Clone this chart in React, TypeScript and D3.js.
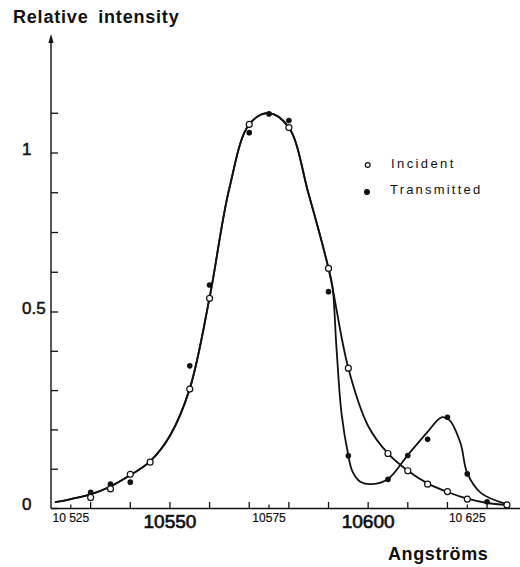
import * as d3 from 'd3'
import { useEffect, useRef } from 'react'

// wavelengths (Angstroms) and relative intensity of the measured points
const incidentX = [10530, 10535, 10540, 10545, 10555, 10560, 10570, 10580, 10590, 10595, 10605, 10610, 10615, 10620, 10625, 10635]
const incidentY = [0.028, 0.05, 0.087, 0.118, 0.304, 0.543, 1.09, 1.08, 0.637, 0.357, 0.14, 0.096, 0.062, 0.043, 0.024, 0.009]

const transmittedX = [10530, 10535, 10540, 10545, 10555, 10560, 10570, 10575, 10580, 10590, 10595, 10605, 10610, 10615, 10620, 10625, 10630, 10635]
const transmittedY = [0.041, 0.062, 0.067, 0.119, 0.363, 0.585, 1.064, 1.123, 1.102, 0.564, 0.134, 0.074, 0.135, 0.176, 0.232, 0.088, 0.017, 0.009]

// hand drawn smooth curves
const incidentCurveX = [10521, 10525, 10530, 10535, 10540, 10545, 10550, 10555, 10560, 10565, 10570, 10575, 10580, 10585, 10590, 10595, 10600, 10605, 10610, 10615, 10620, 10625, 10630, 10635]
const incidentCurveY = [0.016, 0.024, 0.036, 0.056, 0.085, 0.12, 0.185, 0.305, 0.545, 0.89, 1.09, 1.125, 1.08, 0.87, 0.637, 0.357, 0.21, 0.14, 0.096, 0.064, 0.042, 0.025, 0.014, 0.009]

const transmittedCurveX = [10521, 10525, 10530, 10535, 10540, 10545, 10550, 10555, 10560, 10565, 10570, 10575, 10580, 10585, 10590, 10591, 10592, 10593.3, 10595, 10596, 10598, 10601, 10605, 10610, 10615, 10618.5, 10620.5, 10623.3, 10625, 10628.5, 10634.7]
const transmittedCurveY = [0.016, 0.024, 0.036, 0.056, 0.085, 0.12, 0.185, 0.305, 0.545, 0.89, 1.09, 1.125, 1.08, 0.87, 0.637, 0.58, 0.41, 0.24, 0.135, 0.095, 0.068, 0.062, 0.075, 0.136, 0.195, 0.232, 0.225, 0.166, 0.09, 0.039, 0.012]

const yTicks = [0, 0.1, 0.2, 0.3, 0.4, 0.5, 0.625, 0.75, 0.875, 1, 1.125]
const yLabels = [
  [0, '0'],
  [0.5, '0.5'],
  [1, '1'],
]
const xMajorTicks = [10530, 10540, 10550, 10560, 10570, 10580, 10590, 10600, 10610, 10620, 10630]
const xMinorTicks = [10525, 10575, 10625]
const xLabels = [
  [10525, '10 525', 'small'],
  [10550, '10550', 'big'],
  [10575, '10575', 'small'],
  [10600, '10600', 'big'],
  [10625, '10 625', 'small'],
]

const FONT = "'Liberation Sans', Arial, Helvetica, sans-serif"
const INK = '#111'

const App = () => {
  const svgRef = useRef(null)

  useEffect(() => {
    const svg = d3.select(svgRef.current)
    svg.selectAll('*').remove()

    const x = d3.scaleLinear().domain([10520, 10638.3]).range([51, 520])
    // the printed axis is not uniform: 0-0.5 and 0.5-1 take different lengths
    const y = d3.scaleLinear().domain([0, 0.5, 1]).range([508.5, 312, 153])

    // y axis with arrow
    svg.append('line')
      .attr('x1', x(10520)).attr('x2', x(10520))
      .attr('y1', y(0)).attr('y2', 40)
      .attr('stroke', INK).attr('stroke-width', 1.4)
    svg.append('path')
      .attr('d', `M${x(10520)},34 L${x(10520) - 2.6},43 L${x(10520) + 2.6},43 Z`)
      .attr('fill', INK)
    svg.append('g')
      .selectAll('line')
      .data(yTicks)
      .join('line')
      .attr('x1', x(10520)).attr('x2', x(10520) + 7)
      .attr('y1', (d) => y(d)).attr('y2', (d) => y(d))
      .attr('stroke', INK).attr('stroke-width', 1.3)
    svg.append('g')
      .selectAll('text')
      .data(yLabels)
      .join('text')
      .attr('x', 22)
      .attr('y', (d) => y(d[0]) + 1.5)
      .style('font-family', FONT)
      .style('font-size', '17px')
      .attr('fill', INK)
      .attr('stroke', INK).attr('stroke-width', 0.5)
      .text((d) => d[1])

    // x axis
    svg.append('line')
      .attr('x1', x(10520)).attr('x2', 520)
      .attr('y1', y(0)).attr('y2', y(0))
      .attr('stroke', INK).attr('stroke-width', 1.5)
    svg.append('g')
      .selectAll('line')
      .data(xMajorTicks)
      .join('line')
      .attr('x1', (d) => x(d)).attr('x2', (d) => x(d))
      .attr('y1', y(0)).attr('y2', y(0) - 6.5)
      .attr('stroke', INK).attr('stroke-width', 1.3)
    svg.append('g')
      .selectAll('line')
      .data(xMinorTicks)
      .join('line')
      .attr('x1', (d) => x(d)).attr('x2', (d) => x(d))
      .attr('y1', y(0)).attr('y2', y(0) - 4)
      .attr('stroke', INK).attr('stroke-width', 1.2)
    svg.append('g')
      .selectAll('text')
      .data(xLabels)
      .join('text')
      .attr('x', (d) => x(d[0]))
      .attr('y', (d) => (d[2] === 'big' ? 528 : 521.5))
      .attr('text-anchor', 'middle')
      .style('font-family', FONT)
      .style('font-size', (d) => (d[2] === 'big' ? '19px' : '12px'))
      .attr('fill', INK)
      .attr('stroke', INK)
      .attr('stroke-width', (d) => (d[2] === 'big' ? 0.7 : 0.2))
      .text((d) => d[1])

    // curves
    const line = d3.line()
      .x((d) => x(d[0]))
      .y((d) => y(d[1]))
      .curve(d3.curveCatmullRom.alpha(0.5))
    svg.append('path')
      .datum(incidentCurveX.map((v, i) => [v, incidentCurveY[i]]))
      .attr('d', line)
      .attr('fill', 'none').attr('stroke', INK).attr('stroke-width', 1.8)
    svg.append('path')
      .datum(transmittedCurveX.map((v, i) => [v, transmittedCurveY[i]]))
      .attr('d', line)
      .attr('fill', 'none').attr('stroke', INK).attr('stroke-width', 1.8)

    // points
    svg.append('g')
      .selectAll('circle')
      .data(transmittedX.map((v, i) => [v, transmittedY[i]]))
      .join('circle')
      .attr('cx', (d) => x(d[0]))
      .attr('cy', (d) => y(d[1]))
      .attr('r', 2.8)
      .attr('fill', INK)
    svg.append('g')
      .selectAll('circle')
      .data(incidentX.map((v, i) => [v, incidentY[i]]))
      .join('circle')
      .attr('cx', (d) => x(d[0]))
      .attr('cy', (d) => y(d[1]))
      .attr('r', 3)
      .attr('fill', 'white')
      .attr('stroke', INK).attr('stroke-width', 1.2)

    // legend
    svg.append('circle')
      .attr('cx', 367.7).attr('cy', 165).attr('r', 2.4)
      .attr('fill', 'white').attr('stroke', INK).attr('stroke-width', 1.2)
    svg.append('circle')
      .attr('cx', 367).attr('cy', 192).attr('r', 3)
      .attr('fill', INK)
    svg.append('text')
      .attr('x', 391).attr('y', 167.5)
      .style('font-family', FONT).style('font-size', '13px')
      .style('letter-spacing', '2.4px')
      .attr('fill', INK)
      .text('Incident')
    svg.append('text')
      .attr('x', 390).attr('y', 194)
      .style('font-family', FONT).style('font-size', '13px')
      .style('letter-spacing', '2.2px')
      .attr('fill', INK)
      .text('Transmitted')

    // axis titles
    svg.append('text')
      .attr('x', 13).attr('y', 22.5)
      .style('font-family', FONT).style('font-size', '18px')
      .style('font-weight', 'bold')
      .style('letter-spacing', '0.8px')
      .style('word-spacing', '4px')
      .attr('fill', INK)
      .text('Relative intensity')
    svg.append('text')
      .attr('x', 388).attr('y', 560)
      .style('font-family', FONT).style('font-size', '18px')
      .style('font-weight', 'bold')
      .style('letter-spacing', '0.6px')
      .attr('fill', INK)
      .text('Angströms')
  }, [])

  return (
    <svg
      ref={svgRef}
      width={520}
      height={567}
      style={{ position: 'absolute', left: 0, top: 0, background: 'white' }}
    />
  )
}

export default App
